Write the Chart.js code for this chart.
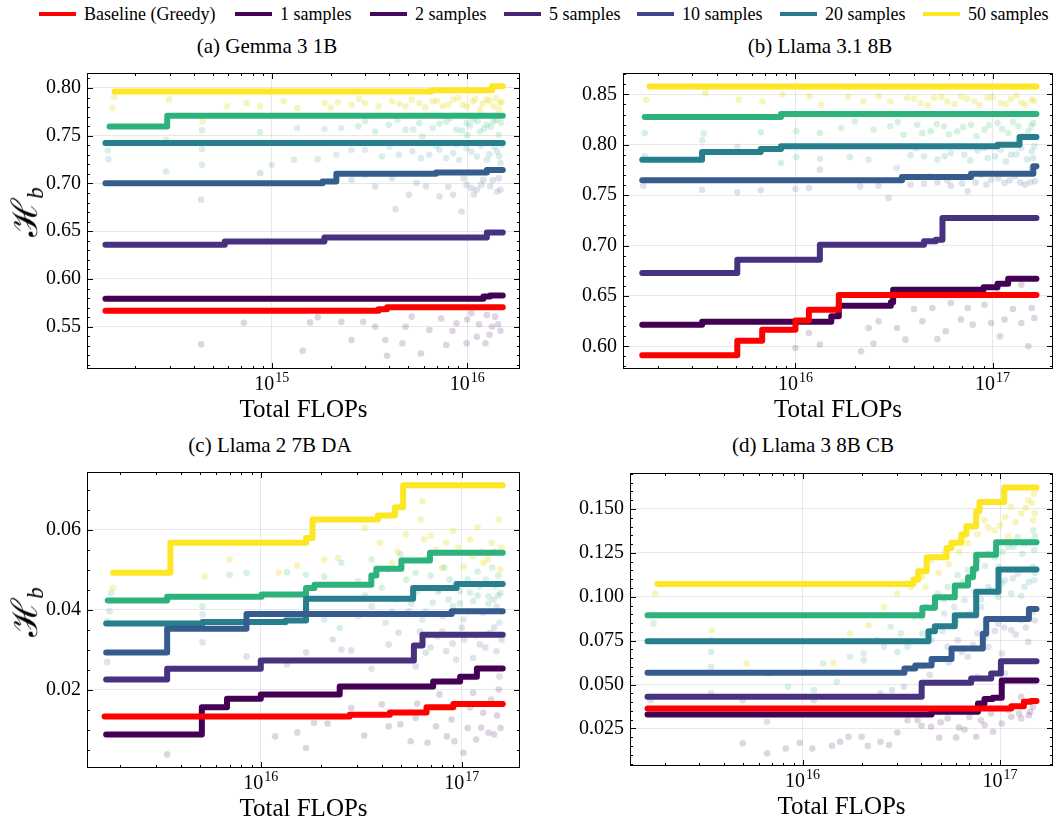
<!DOCTYPE html>
<html>
<head>
<meta charset="utf-8">
<title>H_b vs Total FLOPs</title>
<script src="https://cdn.jsdelivr.net/npm/chart.js@4.4.1/dist/chart.umd.min.js"></script>
<style>
  html, body { margin: 0; padding: 0; background: #fff; }
  body { width: 1057px; height: 821px; position: relative; overflow: hidden;
         font-family: "Liberation Serif", "Times New Roman", serif; color: #000; }
  canvas { position: absolute; }
  .legend-item { position: absolute; top: 3px; height: 22px; display: flex; align-items: center;
                 font-size: 18px; white-space: nowrap; }
  .legend-item .swatch { display: inline-block; width: 37px; height: 4px; margin-right: 8px; }
  .ptitle { position: absolute; font-size: 21px; line-height: 21px; transform: translateX(-50%); white-space: nowrap; }
  .ylab { position: absolute; font-size: 36px; line-height: 1; white-space: nowrap;
          transform: translate(-50%, -50%) rotate(-90deg); }
  .ylab sub { font-size: 23px; font-style: italic; vertical-align: -6px; }
</style>
</head>
<body>
<div id="legend"></div>

<script>
// ---- data ----
const legendLabels = ['Baseline (Greedy)', '1 samples', '2 samples', '5 samples', '10 samples', '20 samples', '50 samples'];
const panelTitles = ['(a) Gemma 3 1B', '(b) Llama 3.1 8B', '(c) Llama 2 7B DA', '(d) Llama 3 8B CB'];

const aYTicks = [0.55, 0.60, 0.65, 0.70, 0.75, 0.80];
const bYTicks = [0.60, 0.65, 0.70, 0.75, 0.80, 0.85];
const cYTicks = [0.02, 0.04, 0.06];
const dYTicks = [0.025, 0.050, 0.075, 0.100, 0.125, 0.150];
const aXTicks = [1e15, 1e16];
const bXTicks = [1e16, 1e17];
const cXTicks = [1e16, 1e17];
const dXTicks = [1e16, 1e17];

// (a) Gemma 3 1B — running best, [FLOPs, H_b]
const aBase = [[1.41e14, .5668], [3.52e15, .5682], [3.89e15, .5703], [1.52e16, .5703]];
const a1 = [[1.41e14, .5794], [1.21e16, .5815], [1.31e16, .5826], [1.52e16, .5826]];
const a2 = [[1.41e14, .6357], [5.75e14, .6392], [1.86e15, .6434], [1.26e16, .6486], [1.52e16, .6486]];
const a5 = [[1.41e14, .7003], [1.82e15, .7021], [2.14e15, .7101], [6.93e15, .7115], [1.26e16, .7140], [1.52e16, .7140]];
const a10 = [[1.41e14, .7423], [1.52e16, .7423]];
const a20 = [[1.48e14, .7598], [2.92e14, .7710], [1.52e16, .7710]];
const a50 = [[1.57e14, .7962], [6.53e15, .7976], [1.34e16, .8017], [1.52e16, .8017]];

const aDots1 = [[4.35e14, .5315], [7.2e14, .5542], [1.44e15, .5248], [1.57e15, .5545], [1.72e15, .5598], [2.27e15, .5552],
  [2.56e15, .536], [2.94e15, .5552], [3.38e15, .55], [3.81e15, .536], [3.89e15, .5196], [4.66e15, .5325], [4.84e15, .55],
  [5.79e15, .522], [6.4e15, .5465], [7.36e15, .5587], [7.81e15, .5308], [8.81e15, .5535], [9.93e15, .5325], [1.05e16, .564],
  [1.12e16, .5395], [1.24e16, .5325], [1.34e16, .55], [1.39e16, .5605], [1.48e16, .5458], [1.26e16, .5622],
  [5.2e15, .5605], [8.4e15, .5455], [1.0e16, .5575], [1.15e16, .5525], [1.3e16, .5415], [1.44e16, .5525]];
const aDots5 = [[4.35e14, .6829], [8.73e14, .7108], [2.56e15, .7038], [3.0e15, .709], [3.38e15, .6969], [4.13e15, .7056],
  [4.3e15, .6731], [5.03e15, .6881], [6.15e15, .6969], [7.21e15, .6864], [8.46e15, .6881], [9.35e15, .6706], [9.93e15, .6986],
  [1.12e16, .6934], [1.21e16, .7038], [1.31e16, .6969], [1.42e16, .6916], [1.45e16, .7056], [1.05e16, .6951],
  [5.5e15, .7005], [8.0e15, .6965], [9.6e15, .7055], [1.08e16, .6885], [1.18e16, .6985], [1.35e16, .7035], [1.48e16, .6935]];
const aDots10 = [[1.46e14, .7255], [2.88e14, .7126], [4.4e14, .736], [4.4e14, .7196], [1.0e15, .7196], [1.3e15, .7248],
  [1.72e15, .7255], [2.14e15, .7301], [2.56e15, .7353], [3.0e15, .7353], [3.66e15, .7283], [4.47e15, .7301], [5.24e15, .7336],
  [6.4e15, .7301], [7.2e15, .7353], [8.46e15, .7318], [9.93e15, .737], [1.12e16, .7283], [1.26e16, .7248], [1.42e16, .7336],
  [1.48e16, .7213], [9.1e15, .7248], [4.0e15, .7385], [5.8e15, .7265], [6.9e15, .7395], [7.8e15, .7265], [8.8e15, .7405],
  [1.05e16, .7335], [1.17e16, .7395], [1.3e16, .7305], [1.38e16, .7385], [1.46e16, .7285], [1.5e16, .7405]];
const aDots20 = [[1.45e14, .7346], [2.88e14, .7458], [4.4e14, .7556], [8.7e14, .7538], [1.35e15, .758], [1.86e15, .757],
  [2.27e15, .758], [2.77e15, .7598], [3.38e15, .7545], [3.97e15, .7615], [4.84e15, .7563], [5.68e15, .7633], [6.66e15, .758],
  [7.81e15, .765], [8.8e15, .7563], [9.93e15, .7633], [1.07e16, .7668], [1.16e16, .7545], [1.26e16, .7615], [1.36e16, .765],
  [1.45e16, .751], [5.9e15, .7493], [3.0e15, .7655], [4.4e15, .7665], [5.3e15, .7565], [7.2e15, .7625], [8.2e15, .7685],
  [9.4e15, .7555], [1.03e16, .7605], [1.13e16, .7655], [1.22e16, .7575], [1.32e16, .7595], [1.41e16, .7665], [1.49e16, .7635],
  [1.0e16, .7505]];
const aDots50 = [[1.56e14, .7906], [1.53e14, .779], [2.98e14, .7878], [4.43e14, .765], [5.9e14, .7808], [7.45e14, .7843],
  [8.73e14, .7808], [1.15e15, .786], [1.35e15, .779], [1.86e15, .7843], [2.18e15, .785], [2.56e15, .7825], [3.0e15, .7843],
  [3.52e15, .7808], [4.13e15, .786], [4.84e15, .7808], [5.68e15, .7843], [6.66e15, .786], [7.5e15, .7808], [8.46e15, .7878],
  [9.5e15, .7825], [1.07e16, .786], [1.16e16, .7773], [1.26e16, .7878], [1.36e16, .7808], [1.47e16, .7843],
  [2.0e15, .7795], [2.8e15, .7885], [4.5e15, .7835], [5.2e15, .7878], [6.1e15, .7795], [7.0e15, .7865], [8.0e15, .7825],
  [9.0e15, .7895], [1.0e16, .7805], [1.1e16, .7885], [1.2e16, .7835], [1.3e16, .7865], [1.4e16, .7895], [1.45e16, .7775],
  [1.5e16, .7855]];

// (b) Llama 3.1 8B
const bBase = [[1.67e15, .5911], [5.07e15, .6056], [6.78e15, .6165], [1.0e16, .6255], [1.17e16, .6364], [1.66e16, .6509], [1.67e17, .6509]];
const b1 = [[1.67e15, .6215], [3.36e15, .6245], [1.52e16, .6298], [1.66e16, .6403], [3.05e16, .6437], [3.13e16, .6562],
  [9.0e16, .6585], [1.06e17, .6622], [1.2e17, .6671], [1.67e17, .6671]];
const b2 = [[1.67e15, .6728], [5.07e15, .686], [1.33e16, .7009], [4.49e16, .7042], [5.15e16, .7058], [5.57e16, .7273], [1.67e17, .7273]];
const b5 = [[1.67e15, .7647], [3.47e16, .768], [7.78e16, .7713], [1.61e17, .7786], [1.67e17, .7786]];
const b10 = [[1.67e15, .7852], [3.36e15, .7928], [6.67e15, .7958], [8.45e15, .7984], [1.06e17, .8000], [1.37e17, .8077], [1.67e17, .8077]];
const b20 = [[1.72e15, .8275], [8.45e15, .8305], [1.67e17, .8305]];
const b50 = [[1.82e15, .8579], [1.67e17, .8579]];

const bDots1 = [[1.0e16, .5983], [1.17e16, .6132], [1.33e16, .6017], [2.15e16, .595], [2.35e16, .6182], [2.49e16, .6027],
  [2.64e16, .6248], [3.27e16, .6182], [3.61e16, .6066], [3.99e16, .637], [4.4e16, .6248], [4.95e16, .638], [5.25e16, .6073],
  [5.79e16, .6149], [6.14e16, .643], [6.91e16, .6265], [7.48e16, .638], [7.93e16, .6215], [9.1e16, .6413], [9.84e16, .6232],
  [1.09e17, .6099], [1.15e17, .6265], [1.27e17, .637], [1.4e17, .6232], [1.52e17, .6], [1.58e17, .638], [1.63e17, .6281],
  [1.4e17, .6612], [1.06e17, .6529]];
const bDots5 = [[1.69e15, .7594], [3.36e15, .7554], [5.07e15, .7528], [6.67e15, .7548], [1.0e16, .7561], [1.17e16, .7571],
  [1.33e16, .7753], [2.13e16, .7587], [2.64e16, .7594], [2.97e16, .7472], [3.84e16, .7604], [4.49e16, .7614], [5.25e16, .7627],
  [6.14e16, .7594], [7.48e16, .7538], [8.75e16, .7703], [9.84e16, .7653], [1.15e17, .762], [1.3e17, .7687], [1.46e17, .7604],
  [1.58e17, .7769], [1.64e17, .7637], [3.5e16, .7655], [4.8e16, .7685], [5.9e16, .7645], [7.0e16, .7615], [8.2e16, .7625],
  [9.3e16, .7605], [1.07e17, .7665], [1.22e17, .7645], [1.38e17, .7625], [1.55e17, .7625]];
const bDots10 = [[1.72e15, .7885], [3.36e15, .8044], [5.07e15, .7978], [8.45e15, .7819], [1.01e16, .7878], [1.33e16, .7858],
  [1.89e16, .7878], [2.35e16, .7852], [3.27e16, .7769], [3.84e16, .7895], [4.49e16, .7885], [5.25e16, .7852], [6.14e16, .7918],
  [7.18e16, .7901], [8.4e16, .7944], [9.44e16, .7868], [1.1e17, .7951], [1.24e17, .7901], [1.4e17, .7968], [1.58e17, .7935],
  [1.61e17, .7868], [4.1e16, .7965], [5.7e16, .7885], [6.6e16, .7985], [7.7e16, .7845], [9.0e16, .7965], [1.03e17, .7885],
  [1.17e17, .7835], [1.32e17, .7905], [1.5e17, .7855], [1.63e17, .7985]];
const bDots20 = [[1.72e15, .8116], [3.43e15, .811], [6.67e15, .8123], [1.01e16, .8133], [1.33e16, .8116], [1.71e16, .8166],
  [2.0e16, .8232], [2.49e16, .815], [3.03e16, .8183], [3.54e16, .81], [4.15e16, .8199], [4.85e16, .8133], [5.68e16, .8183],
  [6.63e16, .8133], [7.78e16, .8199], [9.1e16, .815], [1.06e17, .8216], [1.2e17, .8116], [1.35e17, .8183], [1.52e17, .8133],
  [1.61e17, .8216], [3.3e16, .8225], [4.4e16, .8115], [5.2e16, .8205], [6.0e16, .8105], [7.1e16, .8175], [8.3e16, .8085],
  [9.6e16, .8195], [1.12e17, .8155], [1.27e17, .8225], [1.43e17, .8085], [1.57e17, .8185]];
const bDots50 = [[1.75e15, .8447], [3.5e15, .8513], [5.16e15, .8447], [6.8e15, .843], [8.6e15, .8497], [1.18e16, .848],
  [1.35e16, .8397], [1.85e16, .848], [2.21e16, .843], [2.64e16, .848], [3.03e16, .843], [3.69e16, .8464], [4.31e16, .8414],
  [5.04e16, .8464], [5.9e16, .843], [6.91e16, .848], [8.08e16, .843], [9.44e16, .8464], [1.1e17, .8414], [1.24e17, .8454],
  [1.4e17, .842], [1.58e17, .8447], [4.0e16, .8455], [4.7e16, .8395], [5.5e16, .8475], [6.4e16, .8405], [7.4e16, .8455],
  [8.6e16, .8395], [1.0e17, .8475], [1.17e17, .8405], [1.32e17, .8485], [1.47e17, .8395], [1.62e17, .8435]];

// (c) Llama 2 7B DA
const cBase = [[1.67e15, .0133], [2.77e16, .0137], [4.39e16, .0143], [6.68e16, .0156], [9.08e16, .0164], [1.6e17, .0164]];
const c1 = [[1.7e15, .0088], [5.09e15, .0156], [6.79e15, .0177], [1.0e16, .0188], [2.47e16, .0208], [7.21e16, .022],
  [9.82e16, .0232], [1.19e17, .0253], [1.6e17, .0253]];
const c2 = [[1.7e15, .0225], [3.42e15, .0252], [1.0e16, .0273], [5.78e16, .031], [6.38e16, .0337], [1.6e17, .0337]];
const c5 = [[1.7e15, .0293], [3.42e15, .0352], [8.49e15, .0389], [8.91e16, .0396], [1.6e17, .0396]];
const c10 = [[1.7e15, .0365], [5.13e15, .0369], [1.33e16, .0373], [1.68e16, .0427], [5.73e16, .0454], [9.44e16, .0464], [1.6e17, .0464]];
const c20 = [[1.73e15, .0423], [3.42e15, .0432], [1.01e16, .0438], [1.68e16, .0454], [1.85e16, .0462], [3.55e16, .0485],
  [3.76e16, .0502], [5.01e16, .0523], [6.95e16, .0542], [1.6e17, .0542]];
const c50 = [[1.84e15, .0492], [3.55e15, .0567], [1.68e16, .0579], [1.81e16, .0625], [3.83e16, .0635], [4.65e16, .0656],
  [5.11e16, .0711], [1.6e17, .0711]];

const cDots1 = [[3.42e15, .0038], [1.18e16, .0083], [1.52e16, .0093], [1.68e16, .0054], [1.84e16, .0117], [2.15e16, .0115],
  [2.82e16, .0154], [3.27e16, .0085], [4.0e16, .0163], [4.33e16, .0108], [4.95e16, .0113], [5.57e16, .0071], [5.9e16, .0129],
  [6.76e16, .0067], [7.44e16, .0108], [7.75e16, .0188], [8.43e16, .0083], [9.2e16, .0071], [1.02e17, .0042], [1.07e17, .0104],
  [1.18e17, .0075], [1.28e17, .0142], [1.36e17, .0092], [1.45e17, .0088], [1.53e17, .02], [1.56e17, .0104], [1.14e17, .0192],
  [6.0e16, .0165], [8.9e16, .0125], [1.1e17, .0155], [1.25e17, .0105], [1.4e17, .0175], [1.5e17, .0135]];
const cDots5 = [[1.72e15, .0269], [5.13e15, .0318], [8.49e15, .0283], [1.35e16, .0263], [1.68e16, .0293], [2.28e16, .0325],
  [2.52e16, .03], [2.82e16, .0298], [3.56e16, .0252], [4.33e16, .0313], [4.85e16, .0342], [5.9e16, .0258], [6.62e16, .0292],
  [7.59e16, .0333], [8.37e16, .0296], [9.38e16, .0275], [1.03e17, .0325], [1.14e17, .0279], [1.23e17, .0313], [1.38e17, .0342],
  [1.49e17, .0296], [1.54e17, .0233], [6.2e16, .0345], [7.0e16, .0305], [8.0e16, .0345], [9.0e16, .0315], [1.0e17, .0355],
  [1.18e17, .0335], [1.31e17, .0305], [1.45e17, .0355], [1.58e17, .0325]];
const cDots10 = [[1.72e15, .0371], [1.77e15, .0396], [5.13e15, .0388], [1.33e16, .0367], [1.68e16, .04], [2.07e16, .0375],
  [2.47e16, .0354], [3.05e16, .0383], [3.56e16, .0408], [4.17e16, .0367], [4.76e16, .0425], [5.45e16, .0396], [6.37e16, .0375],
  [7.17e16, .0417], [8.05e16, .0383], [9.05e16, .0408], [1.02e17, .0375], [1.14e17, .0421], [1.28e17, .0392], [1.44e17, .0425],
  [1.54e17, .0367], [1.49e17, .0408], [3.3e16, .0435], [4.5e16, .0395], [5.6e16, .0415], [6.6e16, .0395], [7.6e16, .0445],
  [8.6e16, .0425], [9.8e16, .0415], [1.08e17, .0395], [1.2e17, .0435], [1.36e17, .0415], [1.52e17, .0435], [1.58e17, .0395]];
const cDots20 = [[1.8e15, .0442], [5.13e15, .0408], [7.0e15, .0487], [8.49e15, .0492], [1.35e16, .0493], [1.68e16, .0487],
  [2.07e16, .0483], [2.52e16, .0517], [3.05e16, .0471], [3.56e16, .0525], [4.33e16, .05], [4.95e16, .0538], [5.9e16, .0492],
  [6.62e16, .0525], [7.75e16, .045], [8.7e16, .0475], [9.78e16, .0446], [1.1e17, .0442], [1.23e17, .0458], [1.36e17, .0433],
  [1.47e17, .0458], [1.56e17, .0442], [4.0e16, .0455], [5.3e16, .0475], [6.0e16, .0445], [7.0e16, .0485], [8.2e16, .0505],
  [9.3e16, .0465], [1.07e17, .0475], [1.2e17, .0495], [1.32e17, .0475], [1.42e17, .0505], [1.52e17, .0485], [1.58e17, .0465]];
const cDots50 = [[1.84e15, .0454], [5.25e15, .0483], [7.0e15, .0525], [1.23e16, .0492], [1.52e16, .051], [2.07e16, .0525],
  [2.42e16, .0529], [3.3e16, .0604], [3.93e16, .0567], [4.5e16, .0517], [5.26e16, .0588], [6.25e16, .0625], [6.5e16, .0575],
  [7.44e16, .055], [8.37e16, .0567], [9.05e16, .0596], [1.02e17, .0508], [1.14e17, .0533], [1.28e17, .0517], [1.41e17, .0567],
  [1.53e17, .0625], [1.56e17, .05], [6.37e16, .0671], [4.8e16, .0545], [7.0e16, .0585], [8.0e16, .0505], [9.6e16, .0555],
  [1.1e17, .0575], [1.25e17, .0545], [1.35e17, .0525], [1.45e17, .0545], [1.58e17, .0555], [1.2e17, .0605]];

// (d) Llama 3 8B CB
const dBase = [[1.64e15, .0364], [1.14e17, .0377], [1.32e17, .0402], [1.43e17, .0406], [1.53e17, .0406]];
const d1 = [[1.64e15, .033], [4.5e16, .0345], [7.73e16, .0392], [8.34e16, .0417], [9.18e16, .0425], [1.02e17, .0523], [1.53e17, .0523]];
const d2 = [[1.64e15, .043], [4.01e16, .051], [7.14e16, .0535], [9.02e16, .0563], [1.01e17, .0633], [1.53e17, .0633]];
const d5 = [[1.64e15, .0567], [3.28e16, .0591], [3.72e16, .0609], [4.5e16, .0646], [5.68e16, .0705], [8.18e16, .0789],
  [8.51e16, .0874], [1.4e17, .0931], [1.53e17, .0931]];
const d10 = [[1.64e15, .0747], [4.34e16, .0804], [4.68e16, .0832], [5.9e16, .0895], [7.57e16, .1028], [9.82e16, .1155], [1.53e17, .1155]];
const d20 = [[1.64e15, .0895], [4.04e16, .0937], [4.68e16, .0997], [5.9e16, .1064], [6.89e16, .1111], [7.29e16, .116],
  [7.57e16, .124], [9.55e16, .131], [1.53e17, .131]];
const d50 = [[1.84e15, .1073], [3.64e16, .1098], [3.85e16, .1145], [4.25e16, .1225], [5.36e16, .1278], [5.68e16, .1307],
  [6.37e16, .1354], [6.75e16, .1401], [7.57e16, .1487], [7.87e16, .154], [1.05e17, .1623], [1.53e17, .1623]];

const dDots1 = [[4.98e15, .0165], [6.61e15, .0108], [8.22e15, .0136], [9.69e15, .0168], [1.12e16, .0136], [1.41e16, .0151],
  [1.55e16, .0174], [1.71e16, .0203], [1.99e16, .0203], [2.14e16, .015], [2.48e16, .0174], [2.74e16, .0155], [3.02e16, .0227],
  [3.4e16, .0297], [3.82e16, .0297], [4.47e16, .026], [4.92e16, .0197], [5.43e16, .0307], [5.99e16, .0199], [6.61e16, .0244],
  [7.57e16, .0203], [8.35e16, .0269], [9.21e16, .0231], [1.02e17, .0278], [1.14e17, .0316], [1.28e17, .0307], [1.42e17, .0345],
  [1.47e17, .0373], [1.28e17, .043], [4.0e16, .0265], [5.0e16, .0285], [6.2e16, .0255], [7.0e16, .0315], [8.0e16, .0295],
  [9.0e16, .0335], [1.1e17, .0355], [1.25e17, .0335], [1.4e17, .0325]];
const dDots5 = [[1.7e15, .0411], [3.44e15, .0449], [4.98e15, .0411], [6.61e15, .0288], [1.14e16, .0411], [2.48e16, .0449],
  [2.84e16, .0468], [3.26e16, .0487], [4.04e16, .0601], [4.64e16, .0639], [5.43e16, .0715], [6.1e16, .0753], [6.86e16, .0658],
  [7.7e16, .0791], [8.72e16, .0715], [9.79e16, .0847], [1.02e17, .0677], [1.14e17, .081], [1.28e17, .0866], [1.39e17, .0743],
  [1.47e17, .0914], [1.06e17, .0563], [7.7e16, .0544], [4.4e16, .0555], [5.5e16, .0625], [6.4e16, .0685], [7.3e16, .0725],
  [8.4e16, .0765], [9.4e16, .0805], [1.05e17, .0825], [1.2e17, .0785], [1.35e17, .0825], [1.5e17, .0865]];
const dDots10 = [[3.44e15, .0601], [3.44e15, .0753], [6.7e15, .0563], [1.14e16, .0468], [2.04e16, .0639], [2.58e16, .0715],
  [3.02e16, .0686], [3.4e16, .0715], [4.04e16, .0791], [4.64e16, .0829], [5.22e16, .0904], [5.86e16, .0942], [6.61e16, .098],
  [7.42e16, .1028], [8.03e16, .0942], [8.72e16, .1056], [9.79e16, .0999], [1.06e17, .1094], [1.14e17, .1018], [1.23e17, .1132],
  [1.33e17, .1056], [1.47e17, .117], [1.49e17, .1094], [4.5e16, .0755], [5.1e16, .0805], [6.0e16, .0865], [7.0e16, .0905],
  [8.0e16, .0985], [9.0e16, .1035], [1.02e17, .1075], [1.16e17, .1105], [1.28e17, .1005], [1.4e17, .1085], [1.5e17, .1135]];
const dDots20 = [[1.76e15, .0847], [3.44e15, .0686], [8.45e15, .0487], [1.27e16, .062], [1.49e16, .0516], [1.74e16, .0658],
  [2.04e16, .0677], [2.38e16, .0753], [2.79e16, .0829], [3.14e16, .0791], [3.67e16, .0885], [4.2e16, .0942], [4.83e16, .1018],
  [5.43e16, .1056], [6.1e16, .1123], [6.86e16, .1151], [7.7e16, .1208], [8.72e16, .1246], [9.79e16, .117], [1.1e17, .1284],
  [1.23e17, .1341], [1.33e17, .1303], [1.47e17, .1379], [1.49e17, .1265], [4.0e16, .0885], [4.5e16, .0935], [5.2e16, .0985],
  [5.9e16, .1045], [6.5e16, .1085], [7.4e16, .1135], [8.4e16, .1175], [9.4e16, .1225], [1.03e17, .1255], [1.17e17, .1285],
  [1.3e17, .1245], [1.42e17, .1315], [1.5e17, .1345]];
const dDots50 = [[1.79e15, .1018], [3.47e15, .0809], [5.2e15, .062], [1.43e16, .0624], [1.74e16, .0791], [2.16e16, .0838],
  [2.58e16, .0942], [3.02e16, .1018], [3.53e16, .1056], [4.04e16, .1113], [4.47e16, .1208], [5.22e16, .1246], [5.86e16, .1303],
  [6.61e16, .136], [7.42e16, .1398], [8.35e16, .1436], [9.38e16, .1379], [1.06e17, .1455], [1.14e17, .1511], [1.28e17, .1474],
  [1.39e17, .155], [1.47e17, .1436], [1.49e17, .1587], [4.2e16, .1055], [4.9e16, .1135], [5.5e16, .1185], [6.2e16, .1255],
  [6.9e16, .1305], [7.7e16, .1355], [8.7e16, .1395], [1.0e17, .1405], [1.1e17, .1345], [1.2e17, .1425], [1.35e17, .1505],
  [1.45e17, .1535], [1.5e17, .1475]];

// ---- styles ----
const FONT = '"Liberation Serif", "Times New Roman", serif';
const lineColors = ['#ff0000', '#440154', '#46327e', '#365c8d', '#277f8e', '#2db27d', '#fde725'];
const legendColors = ['#ff0000', '#440256', '#46085c', '#482475', '#414487', '#2a788e', '#fde725'];
const dotColors = ['rgba(68,1,84,0.17)', 'rgba(59,82,139,0.17)', 'rgba(33,145,140,0.17)', 'rgba(53,183,121,0.2)', 'rgba(230,215,20,0.28)'];
const gridColor = 'rgba(0,0,0,0.09)';

Chart.defaults.font.family = FONT;
Chart.defaults.color = '#000';

// legend
const legendLeft = [39, 235, 370, 504, 637, 780, 923];
const legendEl = document.getElementById('legend');
legendLabels.forEach((label, i) => {
  const item = document.createElement('div');
  item.className = 'legend-item';
  item.style.left = legendLeft[i] + 'px';
  item.innerHTML = '<span class="swatch" style="background:' + legendColors[i] + '"></span>' + label;
  legendEl.appendChild(item);
});

// frame, inward ticks and 10^k labels (scienceplots look)
const frameTicks = {
  id: 'frameTicks',
  afterDraw(chart, args, opts) {
    const { ctx, chartArea: a, scales: { x, y } } = chart;
    ctx.save();
    ctx.strokeStyle = '#000';
    ctx.lineWidth = 1;
    ctx.beginPath();
    const hline = (py, len) => {
      py = Math.round(py) + 0.5;
      ctx.moveTo(a.left, py); ctx.lineTo(a.left + len, py);
      ctx.moveTo(a.right, py); ctx.lineTo(a.right - len, py);
    };
    const vline = (px, len) => {
      px = Math.round(px) + 0.5;
      ctx.moveTo(px, a.bottom); ctx.lineTo(px, a.bottom - len);
      ctx.moveTo(px, a.top); ctx.lineTo(px, a.top + len);
    };
    opts.yTicks.forEach(v => hline(y.getPixelForValue(v), 6));
    const k0 = Math.ceil(y.min / opts.yMinor - 1e-9), k1 = Math.floor(y.max / opts.yMinor + 1e-9);
    for (let k = k0; k <= k1; k++) hline(y.getPixelForValue(k * opts.yMinor), 3);
    const e0 = Math.floor(Math.log10(x.min)), e1 = Math.ceil(Math.log10(x.max));
    for (let e = e0; e <= e1; e++) {
      for (let m = 1; m <= 9; m++) {
        const v = m * Math.pow(10, e);
        if (v >= x.min && v <= x.max) vline(x.getPixelForValue(v), m === 1 ? 6 : 3);
      }
    }
    ctx.stroke();
    ctx.strokeRect(Math.round(a.left) + 0.5, Math.round(a.top) + 0.5,
                   Math.round(a.right - a.left) - 1, Math.round(a.bottom - a.top) - 1);
    // x tick labels as 10^k
    ctx.fillStyle = '#000';
    ctx.textAlign = 'left';
    ctx.textBaseline = 'alphabetic';
    opts.xTicks.forEach(v => {
      const px = x.getPixelForValue(v);
      const exp = String(Math.round(Math.log10(v)));
      ctx.font = '20px ' + FONT;
      const wb = ctx.measureText('10').width;
      ctx.font = '14px ' + FONT;
      const we = ctx.measureText(exp).width;
      const x0 = px - (wb + we + 1) / 2;
      ctx.font = '20px ' + FONT;
      ctx.fillText('10', x0, a.bottom + 21);
      ctx.font = '14px ' + FONT;
      ctx.fillText(exp, x0 + wb + 1, a.bottom + 13);
    });
    ctx.restore();
  }
};

function stepSet(pts, color) {
  return {
    data: pts.map(p => ({ x: p[0], y: p[1] })),
    showLine: true, stepped: true,
    borderColor: color, backgroundColor: color, borderWidth: 6,
    borderCapStyle: 'round', borderJoinStyle: 'round',
    pointRadius: 0, fill: false
  };
}
function dotSet(pts, color) {
  return {
    data: pts.map(p => ({ x: p[0], y: p[1] })),
    showLine: false, backgroundColor: color, borderWidth: 0, pointRadius: 3.3
  };
}

function makePanel(p) {
  const canvas = document.createElement('canvas');
  const L = p.frame.left - p.canvasLeft, T = 8, B = 60;
  const width = p.canvasWidth, height = T + (p.frame.bottom - p.frame.top) + B;
  const R = width - L - (p.frame.right - p.frame.left);
  canvas.width = width; canvas.height = height;
  canvas.style.left = p.canvasLeft + 'px';
  canvas.style.top = (p.frame.top - T) + 'px';
  document.body.appendChild(canvas);

  const datasets = p.lines.map((s, i) => stepSet(s, lineColors[i]))
    .concat(p.dots.map((s, i) => dotSet(s, dotColors[i])));

  new Chart(canvas, {
    type: 'scatter',
    data: { datasets },
    options: {
      responsive: false, animation: false, events: [],
      layout: { padding: { left: 0, right: R, top: T, bottom: 0 } },
      plugins: {
        legend: { display: false }, tooltip: { enabled: false },
        frameTicks: { yTicks: p.yTicks, yMinor: p.yMinor, xTicks: p.xTicks }
      },
      scales: {
        x: {
          type: 'logarithmic', min: p.xMin, max: p.xMax,
          afterBuildTicks: s => { s.ticks = p.xTicks.map(v => ({ value: v })); },
          afterFit: s => { s.height = B; s.paddingLeft = 0; s.paddingRight = 0; },
          ticks: { display: false },
          grid: { color: gridColor, lineWidth: 1, drawTicks: false },
          border: { display: false },
          title: { display: true, text: 'Total FLOPs', color: '#000', font: { size: 25 }, padding: { top: 0, bottom: 4 } }
        },
        y: {
          type: 'linear', min: p.yMin, max: p.yMax,
          afterBuildTicks: s => { s.ticks = p.yTicks.map(v => ({ value: v })); },
          afterFit: s => { s.width = L; s.paddingTop = 0; s.paddingBottom = 0; },
          ticks: { color: '#000', font: { size: 20 }, padding: 6, autoSkip: false,
                   callback: v => v.toFixed(p.decimals) },
          grid: { color: gridColor, lineWidth: 1, drawTicks: false },
          border: { display: false }
        }
      }
    },
    plugins: [frameTicks]
  });
}

makePanel({
  frame: { left: 87, top: 73, right: 520, bottom: 369 }, canvasLeft: 0, canvasWidth: 526,
  xMin: 1.135e14, xMax: 1.862e16, yMin: 0.5057, yMax: 0.8157,
  yTicks: aYTicks, yMinor: 0.01, xTicks: aXTicks, decimals: 2,
  lines: [aBase, a1, a2, a5, a10, a20, a50], dots: [aDots1, aDots5, aDots10, aDots20, aDots50]
});
makePanel({
  frame: { left: 623, top: 73, right: 1055, bottom: 369 }, canvasLeft: 540, canvasWidth: 517,
  xMin: 1.334e15, xMax: 2.026e17, yMin: 0.5775, yMax: 0.8712,
  yTicks: bYTicks, yMinor: 0.01, xTicks: bXTicks, decimals: 2,
  lines: [bBase, b1, b2, b5, b10, b20, b50], dots: [bDots1, bDots5, bDots10, bDots20, bDots50]
});
makePanel({
  frame: { left: 87, top: 472, right: 520, bottom: 768 }, canvasLeft: 0, canvasWidth: 526,
  xMin: 1.365e15, xMax: 1.95e17, yMin: 0.0004, yMax: 0.0744,
  yTicks: cYTicks, yMinor: 0.005, xTicks: cXTicks, decimals: 2,
  lines: [cBase, c1, c2, c5, c10, c20, c50], dots: [cDots1, cDots5, cDots10, cDots20, cDots50]
});
makePanel({
  frame: { left: 630, top: 473, right: 1055, bottom: 766 }, canvasLeft: 540, canvasWidth: 517,
  xMin: 1.337e15, xMax: 1.854e17, yMin: 0.0036, yMax: 0.1705,
  yTicks: dYTicks, yMinor: 0.005, xTicks: dXTicks, decimals: 3,
  lines: [dBase, d1, d2, d5, d10, d20, d50], dots: [dDots1, dDots5, dDots10, dDots20, dDots50]
});

// panel titles and y labels
const titlePos = [[267, 36], [820, 36], [270, 435], [813, 435]];
panelTitles.forEach((t, i) => {
  const el = document.createElement('div');
  el.className = 'ptitle';
  el.style.left = titlePos[i][0] + 'px';
  el.style.top = titlePos[i][1] + 'px';
  el.textContent = t;
  document.body.appendChild(el);
});
[[27, 212], [27, 612]].forEach(pos => {
  const el = document.createElement('div');
  el.className = 'ylab';
  el.style.left = pos[0] + 'px';
  el.style.top = pos[1] + 'px';
  el.innerHTML = '\u210B<sub>b</sub>';
  document.body.appendChild(el);
});
</script>
</body>
</html>
